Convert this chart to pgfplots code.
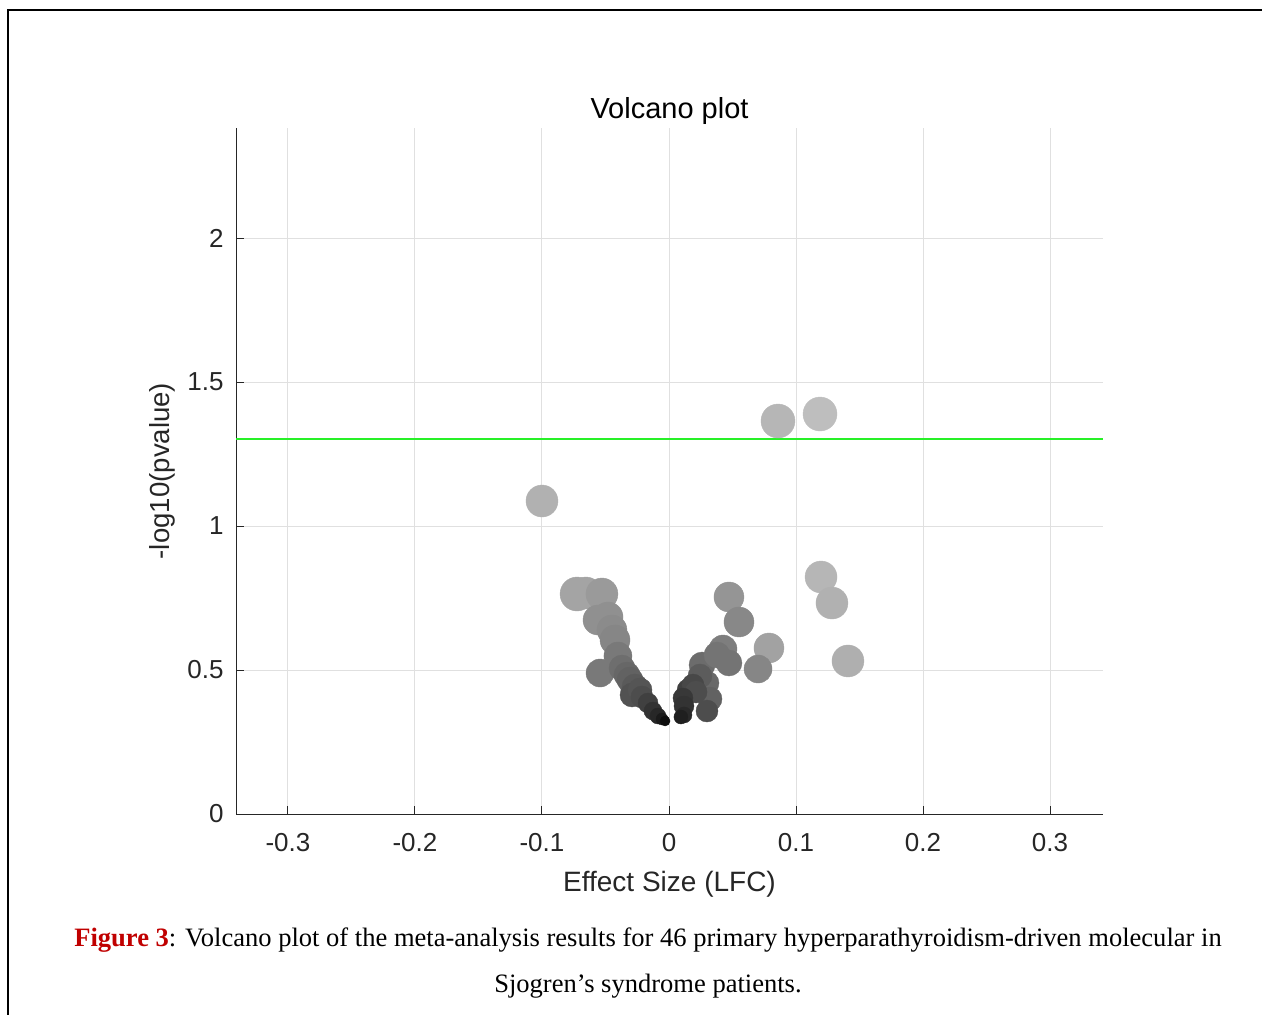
\documentclass[border=0pt]{standalone}
\usepackage{fontspec}
\setmainfont{Liberation Sans}
\newfontfamily\timesf{Liberation Serif}
\usepackage{pgfplots}
\pgfplotsset{compat=1.18}
\definecolor{axgray}{RGB}{38,38,38}
\definecolor{gridgray}{RGB}{224,224,224}
\definecolor{figred}{RGB}{192,0,0}
\definecolor{siggreen}{RGB}{40,240,40}

% x = LFC, y = -log10(p), r = marker radius (pt), g = gray level
\pgfplotstableread{
x y r g
0.1189 1.3889 8.5 0.74
0.0858 1.3646 8.5 0.71
-0.0724 0.7639 8.5 0.64
-0.1000 1.0868 8.0 0.69
0.1197 0.8229 8.0 0.71
0.1283 0.7326 8.0 0.69
0.1409 0.5313 8.0 0.68
-0.0654 0.7674 8.0 0.64
-0.0528 0.7639 8.0 0.60
0.0472 0.7535 7.5 0.58
0.0551 0.6667 7.5 0.53
0.0787 0.5764 7.5 0.63
-0.0480 0.6840 7.5 0.56
-0.0559 0.6736 7.5 0.56
-0.0449 0.6389 7.5 0.54
-0.0425 0.6042 7.5 0.52
0.0701 0.5035 7.0 0.52
0.0425 0.5729 7.0 0.49
-0.0402 0.5486 7.0 0.47
-0.0543 0.4896 7.0 0.47
0.0472 0.5243 6.5 0.45
0.0260 0.5174 6.5 0.42
0.0378 0.5521 6.5 0.45
-0.0370 0.5069 6.5 0.43
-0.0331 0.4826 6.5 0.40
-0.0307 0.4653 6.5 0.38
-0.0268 0.4410 6.5 0.35
0.0299 0.4549 6.0 0.41
0.0323 0.3993 6.0 0.38
0.0244 0.4792 6.0 0.36
-0.0291 0.4132 6.0 0.32
-0.0228 0.4306 6.0 0.33
0.0299 0.3576 5.5 0.30
0.0150 0.4306 5.5 0.25
0.0189 0.4479 5.5 0.28
0.0213 0.4236 5.5 0.30
-0.0213 0.4063 5.5 0.30
0.0110 0.4028 5.0 0.22
0.0118 0.3750 5.0 0.20
-0.0165 0.3854 5.0 0.25
-0.0126 0.3576 4.5 0.20
0.0118 0.3438 4.0 0.16
-0.0087 0.3403 4.0 0.15
0.0094 0.3368 3.5 0.12
-0.0055 0.3299 3.0 0.10
-0.0031 0.3229 2.5 0.05
}\volcano

\begin{document}
\begin{tikzpicture}
\path[use as bounding box] (0,0) rectangle (631pt,-507.5pt);
\draw[line width=1pt] (4pt,-507.5pt) -- (4pt,-5pt) -- (631pt,-5pt);
\begin{axis}[
  at={(118pt,-407pt)}, anchor=south west,
  scale only axis, width=433.5pt, height=343pt,
  xmin=-0.3409, xmax=0.3417, ymin=0, ymax=2.382,
  axis x line*=bottom, axis y line*=left,
  axis line style={draw=axgray, line width=0.5pt},
  tick align=inside, major tick length=4pt,
  tick style={draw=axgray, line width=0.5pt},
  xtick={-0.3,-0.2,-0.1,0,0.1,0.2,0.3},
  xticklabels={-0.3,-0.2,-0.1,0,0.1,0.2,0.3},
  ytick={0,0.5,1,1.5,2},
  yticklabels={0,0.5,1,1.5,2},
  xticklabel style={font=\fontsize{13}{15}\selectfont, text=axgray, inner sep=0pt, anchor=north, yshift=-9.5pt},
  yticklabel style={font=\fontsize{13}{15}\selectfont, text=axgray, inner sep=0pt, anchor=east, xshift=-6pt},
  grid=major, grid style={draw=gridgray, line width=0.5pt},
  xlabel={Effect Size (LFC)},
  xlabel style={font=\fontsize{14}{16}\selectfont, text=axgray, at={(axis description cs:0.5,-0.102)}, anchor=center, inner sep=0pt},
  ylabel={-log10(pvalue)},
  ylabel style={font=\fontsize{13.8}{16}\selectfont, text=axgray, at={(axis description cs:-0.0854,0.5)}, anchor=center, inner sep=0pt},
  colormap={bw}{rgb255(0cm)=(0,0,0); rgb255(1cm)=(255,255,255)},
  clip=false,
]
\addplot[scatter, only marks, mark=*,
  point meta=\thisrow{g}, point meta min=0, point meta max=1,
  scatter/use mapped color={draw=mapped color, fill=mapped color},
  visualization depends on={\thisrow{r} \as \rad},
  scatter/@pre marker code/.append style={/tikz/mark size=\rad},
  line width=0.2pt]
  table[x=x, y=y] {\volcano};
% significance threshold, -log10(0.05)
\addplot[draw=siggreen, solid, no markers, line width=0.9pt] table {
x y
-0.3409 1.301
0.3417 1.301
};
\node[font=\fontsize{14.5}{17}\selectfont, anchor=center, inner sep=0pt]
  at (axis description cs:0.5,1.0248) {Volcano plot};
\end{axis}
\node[font=\timesf\fontsize{13.27}{16}\selectfont] at (324pt,-470pt)
  {\textcolor{figred}{\textbf{Figure 3}}: Volcano plot of the meta-analysis results for 46 primary hyperparathyroidism-driven molecular in};
\node[font=\timesf\fontsize{13.27}{16}\selectfont] at (324pt,-493pt)
  {Sjogren’s syndrome patients.};
\end{tikzpicture}
\end{document}
